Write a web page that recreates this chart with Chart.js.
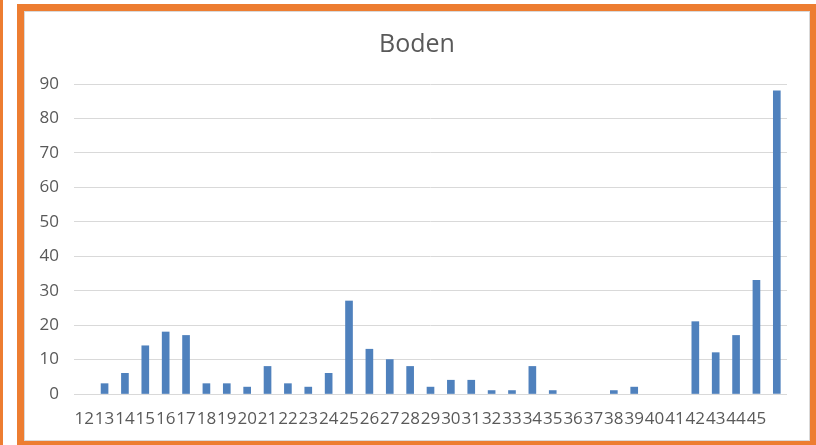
<!DOCTYPE html>
<html>
<head>
<meta charset="utf-8">
<script src="https://cdn.jsdelivr.net/npm/chart.js@4/dist/chart.umd.min.js"></script>
<style>
  body { margin: 0; background: #fff; width: 816px; height: 445px; overflow: hidden; position: relative; }
  .stripe { position: absolute; left: 0; top: 0; width: 3px; height: 445px; background: #ed7d31; }
  .frame { position: absolute; left: 17px; top: 4px; width: 786px; height: 430px; border: 7px solid #ed7d31; }
  .inner { position: absolute; left: 0; top: 0; width: 784px; height: 428px; border: 1px solid #d9d9d9; }
</style>
</head>
<body>
<div class="stripe"></div>
<div class="frame">
  <div class="inner"><canvas id="bodenChart" width="784" height="428"></canvas></div>
</div>
<script>
// last category has no label in the source sheet
let categories = ['12','13','14','15','16','17','18','19','20','21','22','23','24','25','26','27','28',
  '29','30','31','32','33','34','35','36','37','38','39','40','41','42','43','44','45',''];
// empty cells left as null
let values = [null,3,6,14,18,17,3,3,2,8,3,2,6,27,13,10,8,
  2,4,4,1,1,8,1,null,null,1,2,null,null,21,12,17,33,88];
let yTicks = [0,10,20,30,40,50,60,70,80,90];

let textColor = '#595959';

let myChart = new Chart(document.getElementById('bodenChart'), {
    type: 'bar',
    data: {
        labels: categories,
        datasets: [{
            label: 'Boden',
            data: values,
            backgroundColor: '#4f81bd',
            barThickness: 7
        }]
    },
    options: {
        responsive: false,
        animation: false,
        layout: { padding: 0 },
        plugins: {
            legend: { display: false },
            tooltip: { enabled: false },
            title: {
                display: true,
                text: 'Boden',
                color: textColor,
                font: { family: 'Open Sans', size: 25, weight: 'normal' },
                padding: { top: 18, bottom: 24 }
            }
        },
        scales: {
            x: {
                offset: true,
                grid: { display: false },
                border: { display: false },
                ticks: {
                    color: textColor,
                    font: { family: 'Open Sans', size: 17 },
                    maxRotation: 0,
                    minRotation: 0,
                    autoSkip: false,
                    padding: 7
                },
                afterFit: function(scale) { scale.height = 46; }
            },
            y: {
                min: 0,
                max: 90,
                afterBuildTicks: function(scale) {
                    scale.ticks = yTicks.map(function(v) { return { value: v }; });
                },
                grid: { color: '#d9d9d9', drawTicks: false },
                border: { display: false },
                ticks: {
                    color: textColor,
                    font: { family: 'Open Sans', size: 17 },
                    padding: 15
                },
                afterFit: function(scale) { scale.width = 49; }
            },
            // empty right-hand spacer so the title stays centred on the canvas
            yRight: {
                position: 'right',
                min: 0,
                max: 90,
                grid: { display: false },
                border: { display: false },
                ticks: { display: false },
                afterFit: function(scale) { scale.width = 22; }
            }
        }
    }
});
</script>
</body>
</html>
